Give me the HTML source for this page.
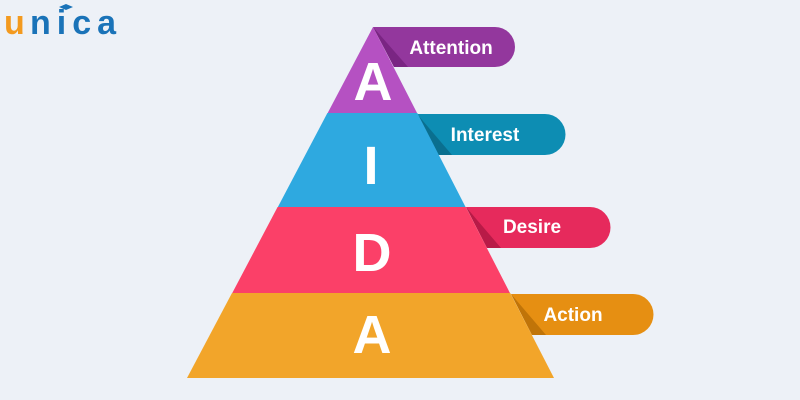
<!DOCTYPE html>
<html><head><style>
body{margin:0;width:800px;height:400px;background:#edf1f7;overflow:hidden}
svg{display:block}
text{font-family:"Liberation Sans",sans-serif;font-weight:bold;fill:#fff}
</style></head><body>
<svg width="800" height="400" viewBox="0 0 800 400">
<rect width="800" height="400" fill="#edf1f7"/>
<text x="4" y="34" font-size="34" style="fill:#f39a1f">u</text>
<text x="30" y="34" font-size="34" letter-spacing="6" style="fill:#1a73b8">nica</text>
<path d="M59 7 l7 -3 l7 3 l-7 3z" fill="#1a73b8"/>
<!-- tabs -->
<path d="M373 27 H495 A20 20 0 0 1 495 67 H394 Z" fill="#93379d"/>
<path d="M373 27 L394 67 L408 67 Z" fill="#7a2583"/>
<path d="M417 114 H545 A20.5 20.5 0 0 1 545 155 H438 Z" fill="#0d8db3"/>
<path d="M417 114 L438 155 L452 155 Z" fill="#0a6f8f"/>
<path d="M466 207 H590 A20.5 20.5 0 0 1 590 248 H487 Z" fill="#e62a5c"/>
<path d="M466 207 L487 248 L501 248 Z" fill="#b81a47"/>
<path d="M511 294 H633 A20.5 20.5 0 0 1 633 335 H532 Z" fill="#e68f12"/>
<path d="M511 294 L532 335 L546 335 Z" fill="#c07408"/>
<!-- pyramid -->
<polygon points="373,27 417.3,113.5 327.4,113.5" fill="#b551c2"/>
<polygon points="327.4,113 417.3,113 465.8,207.5 277.6,207.5" fill="#2ea9e0"/>
<polygon points="277.6,207 465.8,207 510.2,293.5 232,293.5" fill="#fb4068"/>
<polygon points="232,293 510.2,293 554,378 187,378" fill="#f2a52a"/>
<text x="373" y="100" font-size="54" text-anchor="middle">A</text>
<text x="371" y="184" font-size="54" text-anchor="middle">I</text>
<text x="372" y="271" font-size="54" text-anchor="middle">D</text>
<text x="372" y="353" font-size="54" text-anchor="middle">A</text>
<text x="451" y="54" font-size="19" text-anchor="middle">Attention</text>
<text x="485" y="141" font-size="19" text-anchor="middle">Interest</text>
<text x="532" y="233" font-size="19" text-anchor="middle">Desire</text>
<text x="573" y="321" font-size="19" text-anchor="middle">Action</text>
</svg>
</body></html>
